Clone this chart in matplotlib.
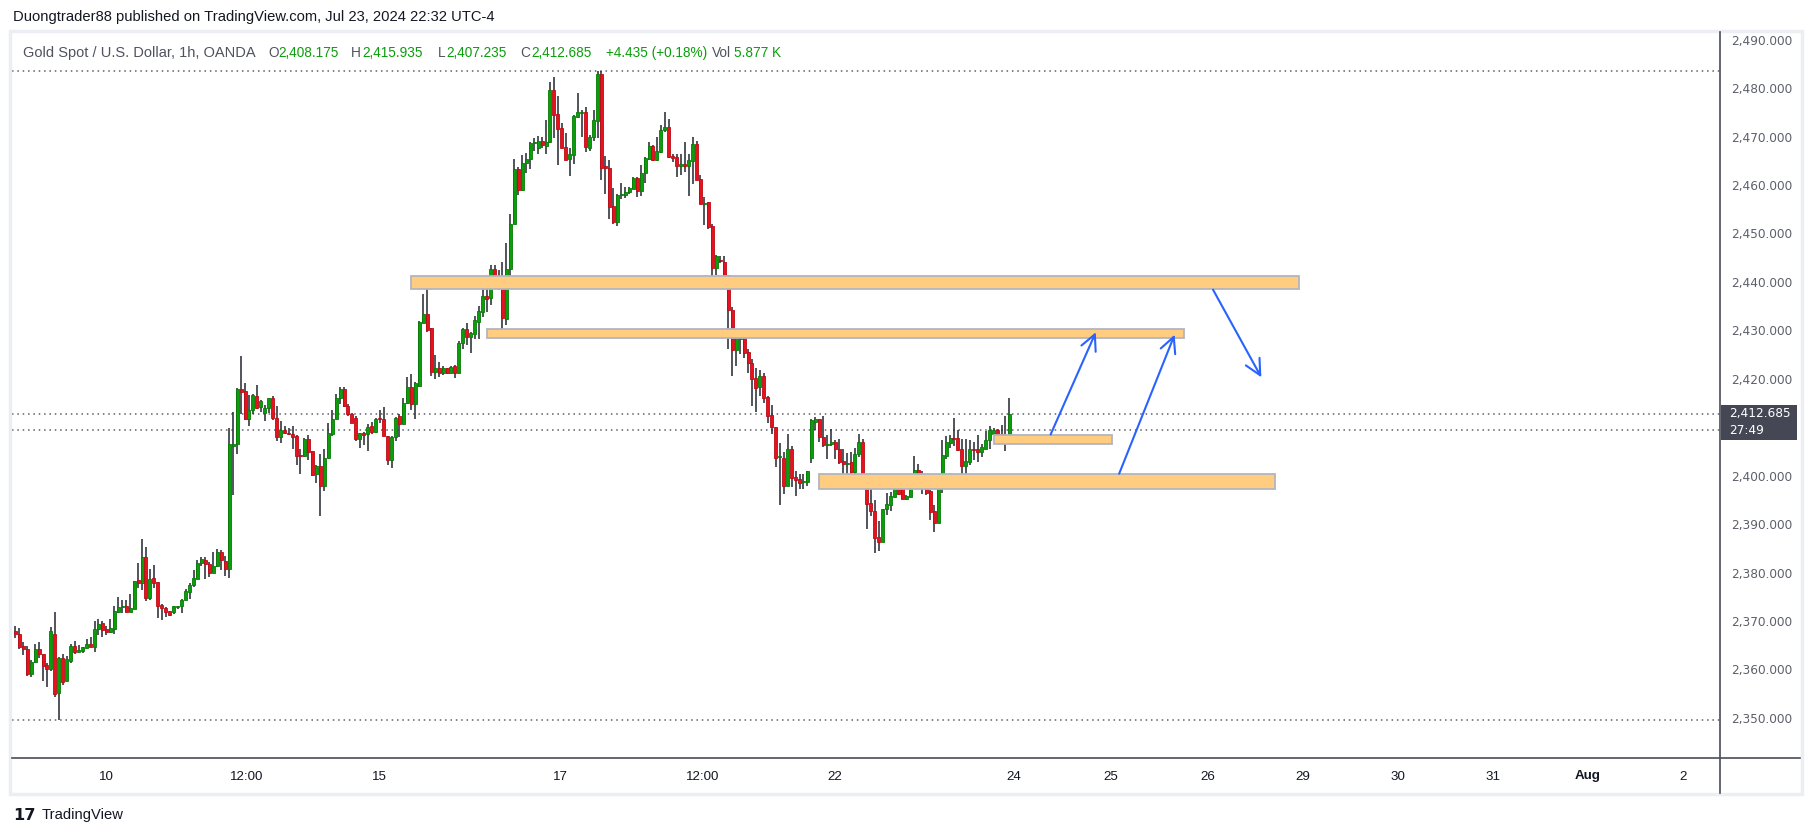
import matplotlib
matplotlib.use("Agg")
import matplotlib.pyplot as plt
from matplotlib import font_manager
from matplotlib.patches import Rectangle
from matplotlib.lines import Line2D

# 1h XAU/USD candles (OANDA)
opens = [2367.9, 2367.4, 2364.8, 2364.3, 2359.0, 2361.5, 2364.3, 2363.2, 2360.8, 2360.1,
         2367.2, 2355.1, 2362.3, 2357.5, 2361.7, 2364.8, 2363.6, 2363.8, 2364.4, 2365.2,
         2364.6, 2368.3, 2369.5, 2368.3, 2367.7, 2368.3, 2371.8, 2372.9, 2373.0, 2371.8,
         2372.5, 2378.4, 2377.8, 2383.3, 2374.7, 2378.9, 2378.0, 2373.2, 2372.7, 2372.0,
         2371.8, 2372.8, 2373.0, 2374.4, 2376.0, 2377.4, 2378.7, 2382.0, 2382.5, 2381.8,
         2379.9, 2381.4, 2384.2, 2382.4, 2380.7, 2406.2, 2406.6, 2417.8, 2417.4, 2411.7,
         2413.6, 2416.5, 2414.2, 2412.9, 2414.0, 2416.1, 2412.0, 2408.0, 2409.5, 2408.7,
         2408.7, 2408.1, 2404.2, 2404.1, 2407.6, 2405.0, 2400.3, 2401.9, 2397.9, 2403.7,
         2408.7, 2411.7, 2416.0, 2417.9, 2414.3, 2412.8, 2411.8, 2407.6, 2408.8, 2408.5,
         2410.2, 2409.0, 2411.8, 2411.6, 2408.1, 2403.2, 2407.9, 2412.3, 2410.7, 2414.9,
         2418.2, 2414.8, 2418.5, 2431.6, 2433.3, 2430.4, 2421.5, 2422.3, 2421.1, 2422.2,
         2421.1, 2422.6, 2421.2, 2427.3, 2430.2, 2428.6, 2429.2, 2431.8, 2433.8, 2437.0,
         2436.6, 2442.6, 2440.3, 2439.5, 2432.3, 2442.6, 2452.0, 2463.3, 2458.9, 2464.6,
         2465.3, 2468.6, 2467.7, 2469.0, 2468.1, 2468.8, 2479.6, 2474.6, 2471.7, 2467.8,
         2465.3, 2466.2, 2474.1, 2474.9, 2475.0, 2467.7, 2469.9, 2473.2, 2482.9, 2463.7,
         2463.6, 2455.6, 2452.4, 2458.0, 2458.0, 2458.6, 2459.1, 2461.5, 2458.8, 2462.4,
         2465.3, 2468.0, 2465.2, 2466.8, 2471.4, 2471.9, 2465.9, 2465.7, 2463.9, 2464.4,
         2463.9, 2465.0, 2468.4, 2461.3, 2456.1, 2456.4, 2451.5, 2442.9, 2444.5, 2444.2,
         2441.4, 2434.3, 2426.0, 2428.3, 2428.8, 2425.5, 2423.3, 2420.1, 2418.2, 2420.5,
         2416.2, 2412.6, 2410.1, 2403.9, 2403.7, 2397.9, 2405.4, 2399.8, 2399.3, 2398.7,
         2398.7, 2403.7, 2411.1, 2411.6, 2407.9, 2406.3, 2406.6, 2407.0, 2405.6, 2403.0,
         2402.4, 2402.8, 2400.8, 2404.4, 2406.9, 2398.2, 2394.3, 2392.8, 2387.3, 2386.3,
         2393.1, 2393.9, 2395.6, 2399.0, 2397.6, 2395.2, 2395.6, 2399.9, 2401.1, 2399.7,
         2398.4, 2396.8, 2392.6, 2390.2, 2397.9, 2404.1, 2406.7, 2407.7, 2407.7, 2405.4,
         2402.0, 2402.8, 2405.4, 2405.4, 2404.9, 2405.6, 2407.4, 2408.6, 2409.4, 2408.7,
         2408.3, 2408.175]
highs = [2368.9, 2368.5, 2365.7, 2364.8, 2362.0, 2365.3, 2365.7, 2363.2, 2361.4, 2368.7,
         2371.8, 2362.6, 2363.2, 2362.7, 2365.3, 2365.8, 2365.1, 2364.6, 2366.2, 2366.6,
         2369.9, 2370.3, 2370.0, 2369.0, 2370.5, 2373.0, 2375.0, 2374.3, 2374.3, 2375.5,
         2378.3, 2381.9, 2386.9, 2385.2, 2380.8, 2381.5, 2378.0, 2373.6, 2372.8, 2372.1,
         2373.0, 2373.0, 2374.5, 2376.5, 2377.9, 2380.5, 2382.5, 2383.2, 2383.2, 2382.2,
         2384.2, 2384.8, 2384.6, 2383.5, 2409.8, 2413.1, 2418.0, 2424.6, 2419.2, 2416.6,
         2416.8, 2418.7, 2415.6, 2414.5, 2416.1, 2416.4, 2414.3, 2411.2, 2410.2, 2409.9,
         2410.2, 2408.3, 2405.6, 2407.7, 2408.3, 2405.1, 2402.1, 2404.4, 2405.6, 2410.9,
         2413.6, 2416.9, 2418.3, 2418.3, 2414.7, 2412.9, 2412.3, 2408.8, 2409.0, 2410.7,
         2411.0, 2412.0, 2413.5, 2414.1, 2408.1, 2408.1, 2412.2, 2412.7, 2416.0, 2420.3,
         2420.9, 2419.4, 2431.9, 2437.5, 2439.9, 2430.4, 2424.9, 2423.4, 2422.6, 2422.2,
         2422.7, 2422.8, 2427.8, 2430.4, 2431.5, 2429.6, 2432.9, 2435.0, 2439.2, 2438.8,
         2443.5, 2443.5, 2442.4, 2444.1, 2448.0, 2454.0, 2465.3, 2463.7, 2466.3, 2466.6,
         2468.9, 2469.7, 2470.1, 2469.9, 2473.4, 2481.2, 2482.3, 2478.3, 2472.8, 2470.8,
         2467.7, 2474.5, 2479.0, 2475.4, 2476.2, 2470.3, 2475.4, 2483.6, 2483.6, 2465.9,
         2465.1, 2459.3, 2458.2, 2460.4, 2459.5, 2459.6, 2461.7, 2461.7, 2464.1, 2465.8,
         2468.8, 2468.3, 2469.9, 2472.4, 2475.0, 2473.7, 2466.4, 2466.4, 2466.4, 2468.8,
         2466.4, 2469.9, 2469.0, 2462.0, 2457.6, 2456.4, 2451.9, 2445.6, 2445.4, 2445.3,
         2441.4, 2434.8, 2428.8, 2429.6, 2429.4, 2426.1, 2424.0, 2422.2, 2421.8, 2421.1,
         2416.4, 2414.5, 2410.1, 2406.7, 2404.9, 2408.5, 2406.1, 2400.9, 2400.4, 2400.3,
         2400.9, 2411.6, 2412.1, 2411.6, 2412.3, 2408.3, 2409.6, 2407.4, 2407.5, 2405.4,
         2404.6, 2404.9, 2405.8, 2408.5, 2407.6, 2399.7, 2400.3, 2394.9, 2390.6, 2393.1,
         2396.4, 2396.6, 2400.3, 2399.5, 2397.7, 2395.9, 2400.2, 2404.0, 2402.5, 2400.9,
         2399.7, 2397.0, 2393.9, 2399.2, 2407.3, 2408.1, 2408.3, 2412.0, 2409.4, 2407.6,
         2407.6, 2407.3, 2406.9, 2408.3, 2406.5, 2409.2, 2410.3, 2409.8, 2409.6, 2410.4,
         2412.3, 2415.935]
lows = [2366.5, 2364.3, 2363.0, 2358.6, 2358.4, 2361.4, 2362.3, 2357.7, 2356.4, 2359.7,
        2354.3, 2349.5, 2356.8, 2357.5, 2361.3, 2363.1, 2363.6, 2363.4, 2364.4, 2364.6,
        2363.6, 2367.1, 2366.7, 2367.0, 2367.5, 2367.3, 2371.6, 2371.6, 2371.8, 2371.8,
        2372.5, 2376.7, 2376.4, 2374.1, 2374.4, 2376.7, 2370.6, 2370.1, 2370.8, 2371.0,
        2371.4, 2372.5, 2371.6, 2374.4, 2374.6, 2377.0, 2378.7, 2381.3, 2378.7, 2379.0,
        2379.8, 2381.1, 2380.6, 2379.2, 2378.9, 2396.0, 2404.5, 2412.8, 2411.4, 2410.3,
        2412.8, 2413.8, 2413.1, 2411.3, 2412.9, 2411.4, 2407.2, 2406.7, 2408.7, 2408.3,
        2405.5, 2402.3, 2400.3, 2403.9, 2403.3, 2399.9, 2398.5, 2391.7, 2396.8, 2403.7,
        2408.1, 2411.6, 2414.7, 2414.1, 2412.3, 2410.9, 2407.2, 2405.7, 2406.3, 2405.1,
        2408.5, 2408.8, 2410.9, 2408.2, 2402.1, 2401.5, 2407.2, 2407.9, 2410.7, 2414.7,
        2413.6, 2411.7, 2418.3, 2431.5, 2429.7, 2420.6, 2420.0, 2420.4, 2420.7, 2421.0,
        2421.1, 2420.2, 2421.2, 2426.2, 2426.9, 2425.3, 2428.3, 2428.3, 2432.8, 2433.8,
        2435.2, 2439.7, 2438.4, 2429.5, 2431.1, 2440.5, 2452.0, 2457.9, 2458.7, 2462.5,
        2463.3, 2467.0, 2466.4, 2467.6, 2466.4, 2468.7, 2469.7, 2464.1, 2467.7, 2465.1,
        2461.9, 2464.4, 2473.9, 2469.9, 2466.8, 2467.0, 2469.0, 2469.8, 2461.1, 2458.2,
        2453.0, 2451.9, 2451.6, 2457.2, 2457.3, 2458.1, 2459.1, 2457.5, 2457.7, 2460.4,
        2465.2, 2465.0, 2464.9, 2466.7, 2471.0, 2465.6, 2464.7, 2461.7, 2462.0, 2462.7,
        2457.8, 2460.3, 2461.0, 2456.0, 2451.8, 2450.9, 2440.3, 2441.4, 2443.9, 2441.2,
        2426.2, 2420.5, 2422.7, 2425.2, 2424.2, 2421.2, 2414.4, 2413.2, 2416.4, 2415.0,
        2410.9, 2408.7, 2401.8, 2393.9, 2396.2, 2397.9, 2397.7, 2395.8, 2397.3, 2397.3,
        2397.9, 2402.6, 2409.4, 2407.0, 2405.9, 2403.5, 2406.1, 2403.5, 2402.5, 2399.2,
        2399.9, 2399.9, 2399.9, 2403.9, 2398.0, 2389.0, 2391.6, 2384.0, 2384.4, 2386.3,
        2391.9, 2392.7, 2395.5, 2396.1, 2395.1, 2395.0, 2395.5, 2399.2, 2397.6, 2396.2,
        2395.9, 2390.8, 2388.3, 2390.2, 2396.4, 2403.4, 2405.7, 2406.1, 2405.1, 2399.7,
        2399.9, 2402.1, 2403.2, 2402.8, 2403.9, 2405.6, 2405.4, 2408.3, 2408.1, 2408.1,
        2405.0, 2407.235]
closes = [2367.3, 2364.6, 2364.2, 2359.0, 2361.6, 2364.3, 2363.2, 2360.7, 2360.0, 2367.9,
          2354.9, 2362.3, 2357.4, 2362.1, 2364.8, 2363.6, 2364.1, 2364.6, 2365.2, 2364.6,
          2368.3, 2369.4, 2368.1, 2367.7, 2368.5, 2372.0, 2372.8, 2373.0, 2371.8, 2372.6,
          2378.3, 2377.8, 2383.3, 2374.7, 2378.7, 2377.8, 2373.1, 2372.7, 2371.8, 2371.2,
          2373.0, 2373.0, 2374.3, 2376.2, 2377.5, 2378.8, 2382.0, 2382.7, 2381.8, 2379.9,
          2381.4, 2384.2, 2382.5, 2380.7, 2406.5, 2406.6, 2417.8, 2417.3, 2411.6, 2413.6,
          2416.7, 2414.0, 2415.4, 2414.0, 2416.1, 2411.9, 2408.0, 2409.5, 2408.8, 2408.5,
          2408.0, 2404.1, 2404.1, 2407.5, 2404.9, 2400.1, 2401.9, 2397.9, 2403.6, 2408.9,
          2411.7, 2416.0, 2417.8, 2414.3, 2412.7, 2410.9, 2407.6, 2408.8, 2408.4, 2410.1,
          2409.0, 2411.6, 2411.7, 2408.2, 2403.2, 2407.9, 2412.0, 2410.7, 2414.9, 2418.2,
          2414.8, 2419.2, 2431.7, 2433.3, 2430.1, 2421.4, 2422.3, 2421.1, 2422.3, 2421.1,
          2422.5, 2421.2, 2427.3, 2430.2, 2428.6, 2429.4, 2432.1, 2433.9, 2437.0, 2436.4,
          2442.6, 2439.9, 2439.4, 2432.6, 2442.7, 2452.0, 2463.3, 2459.0, 2464.6, 2465.3,
          2468.6, 2468.8, 2469.0, 2468.3, 2468.8, 2479.6, 2474.5, 2471.6, 2467.7, 2465.2,
          2466.4, 2474.2, 2475.0, 2475.0, 2467.9, 2470.0, 2473.4, 2482.9, 2463.6, 2463.6,
          2455.5, 2452.4, 2458.0, 2458.1, 2458.6, 2459.4, 2461.4, 2458.8, 2462.4, 2465.5,
          2468.0, 2465.2, 2467.0, 2471.4, 2471.9, 2465.8, 2465.6, 2463.9, 2464.4, 2463.9,
          2465.1, 2468.4, 2461.1, 2456.1, 2456.2, 2451.4, 2442.9, 2445.3, 2444.3, 2441.2,
          2434.3, 2426.0, 2428.4, 2428.8, 2425.3, 2423.3, 2420.0, 2418.0, 2420.5, 2416.0,
          2412.4, 2410.1, 2403.7, 2404.0, 2397.9, 2405.4, 2399.5, 2399.2, 2398.5, 2398.8,
          2400.9, 2411.4, 2411.6, 2407.9, 2406.4, 2406.6, 2407.0, 2405.5, 2402.8, 2402.5,
          2402.5, 2400.8, 2404.4, 2406.9, 2398.1, 2394.2, 2392.7, 2387.1, 2386.3, 2393.1,
          2394.1, 2395.7, 2399.0, 2396.2, 2395.2, 2395.7, 2400.1, 2401.1, 2399.5, 2398.3,
          2396.4, 2392.5, 2390.2, 2398.0, 2404.2, 2406.9, 2407.7, 2407.6, 2405.3, 2402.0,
          2403.0, 2405.4, 2405.3, 2404.9, 2405.9, 2407.4, 2409.5, 2409.4, 2408.5, 2408.2,
          2408.2, 2412.685]

# time axis labels (bar index where they sit)
tick_pos = [23, 58.5, 92, 137.5, 173.5, 207, 252, 276.5, 301, 325, 349, 373, 397, 421]
tick_lbl = ["10", "12:00", "15", "17", "12:00", "22", "24", "25", "26", "29", "30", "31", "Aug", "2"]
# 2,410 is hidden behind the last-price badge
price_ticks = [2350, 2360, 2370, 2380, 2390, 2400, 2420, 2430, 2440, 2450, 2460, 2470, 2480, 2490]

# drawn supply / demand zones
zone_x0 = [100, 119, 247, 203]
zone_x1 = [324, 295, 277, 318]
zone_lo = [2438.5, 2428.5, 2406.6, 2397.3]
zone_hi = [2441.3, 2430.35, 2408.4, 2400.4]

# drawn arrows (bar index, price)
arrow_x0 = [261.4, 278.7, 302.4]
arrow_y0 = [2408.5, 2400.4, 2438.4]
arrow_x1 = [272.8, 292.7, 314.6]
arrow_y1 = [2429.6, 2429.1, 2420.3]

last_price = 2412.685
prev_line = 2409.5

UP = "#0a9e0a"
UP_EDGE = "#077a07"
DOWN = "#e8111e"
DOWN_EDGE = "#b80c16"
WICK = "#23262f"
TEXT = "#131722"
GRAY = "#50535e"
LINE = "#4a4d57"

names = {f.name for f in font_manager.fontManager.ttflist}
if "Liberation Sans Narrow" in names:
    NARROW, HSIZE, LSIZE, VSIZE, XSIZE = "Liberation Sans Narrow", 12.6, 12.6, 12.0, 11.5
else:
    NARROW, HSIZE, LSIZE, VSIZE, XSIZE = "Liberation Sans", 10.6, 10.5, 9.8, 9.6

W, H = 1814, 836


def fx(p):
    return p / W


def fy(p):
    return 1 - p / H


fig = plt.figure(figsize=(W / 100, H / 100), dpi=100)
fig.patch.set_facecolor("white")

# chart panel frame
fig.add_artist(Rectangle((fx(10), fy(794)), fx(1802) - fx(10), fy(31) - fy(794),
                         transform=fig.transFigure, fill=False, edgecolor="#eceef3", lw=2.5))

ax = fig.add_axes([fx(12), fy(758), fx(1720) - fx(12), fy(32) - fy(758)])
ax.set_facecolor("white")
ax.set_xlim(-0.83, 430.4)
ax.set_ylim(2341.7, 2491.6)
for s in ax.spines.values():
    s.set_visible(False)

x = list(range(len(closes)))
for i in x:
    o, c = opens[i], closes[i]
    up = c >= o
    ax.vlines(i, lows[i], highs[i], color=WICK, lw=1.1, zorder=2)
    lo = min(o, c)
    h = max(abs(c - o), 0.25)
    ax.bar(i, h, bottom=lo, width=0.76, color=UP if up else DOWN,
           edgecolor=UP_EDGE if up else DOWN_EDGE, lw=0.6, zorder=3)

# zones
for a, b, lo, hi in zip(zone_x0, zone_x1, zone_lo, zone_hi):
    ax.add_patch(Rectangle((a, lo), b - a, hi - lo, facecolor="#ffcc80",
                           edgecolor="#b2b5be", lw=1.3, zorder=4))

# arrows
for a, b, c, d in zip(arrow_x0, arrow_y0, arrow_x1, arrow_y1):
    ax.annotate("", xy=(c, d), xytext=(a, b),
                arrowprops=dict(arrowstyle="->,head_length=0.7,head_width=0.35",
                                color="#2962ff", lw=1.5, mutation_scale=16,
                                shrinkA=0, shrinkB=0), zorder=5)

# dotted reference lines
dots = dict(color="#5d606b", lw=1.1, linestyle=(0, (1, 2.5)), zorder=1)
ax.axhline(max(highs), **dots)
ax.axhline(min(lows), **dots)
ax.axhline(last_price, **dots)
ax.axhline(prev_line, **dots)

# axes ticks
ax.yaxis.tick_right()
ax.set_yticks(price_ticks)
ax.set_yticklabels([f"{v:,.3f}" for v in price_ticks], fontsize=8.7,
                   color="#5d606b", family="DejaVu Sans")
ax.tick_params(axis="y", length=0, pad=8)
ax.set_xticks(tick_pos)
ax.set_xticklabels(tick_lbl, fontsize=XSIZE, color=TEXT, family=NARROW)
for t in ax.get_xticklabels():
    if t.get_text() == "Aug":
        t.set_fontweight("bold")
ax.tick_params(axis="x", length=0, pad=9)

# separators
fig.add_artist(Line2D([fx(12), fx(1800)], [fy(758), fy(758)], color=LINE, lw=1.2))
fig.add_artist(Line2D([fx(1720), fx(1720)], [fy(32), fy(793)], color=LINE, lw=1.2))

# last price badge
fig.add_artist(Rectangle((fx(1721), fy(440)), fx(1797) - fx(1721), fy(405) - fy(440),
                         transform=fig.transFigure, facecolor="#454854", edgecolor="none"))
fig.text(fx(1729), fy(414), f"{last_price:,.3f}", color="white", fontsize=8.7,
         family="DejaVu Sans", va="center", ha="left")
fig.text(fx(1729), fy(431), "27:49", color="white", fontsize=8.7,
         family="DejaVu Sans", va="center", ha="left")

# header + legend
fig.text(fx(12.6), fy(17), "Duongtrader88 published on TradingView.com, Jul 23, 2024 22:32 UTC-4",
         color=TEXT, fontsize=HSIZE, family=NARROW, va="center")
legend = [("Gold Spot / U.S. Dollar, 1h, OANDA", 23.0, GRAY, LSIZE),
          ("O", 268.1, GRAY, VSIZE), ("2,408.175", 278.5, UP, VSIZE),
          ("H", 351.3, GRAY, VSIZE), ("2,415.935", 362.0, UP, VSIZE),
          ("L", 437.4, GRAY, VSIZE), ("2,407.235", 446.6, UP, VSIZE),
          ("C", 520.7, GRAY, VSIZE), ("2,412.685", 531.0, UP, VSIZE),
          ("+4.435 (+0.18%)", 605.6, UP, VSIZE),
          ("Vol", 711.8, GRAY, VSIZE), ("5.877 K", 734.0, UP, VSIZE)]
for txt, px, col, sz in legend:
    fig.text(fx(px), fy(57), txt, color=col, fontsize=sz, family=NARROW, va="baseline")

# footer logo
fig.text(fx(13), fy(815), "17", color=TEXT, fontsize=HSIZE + 1, family="DejaVu Sans",
         fontweight="bold", va="center")
fig.text(fx(42), fy(815), "TradingView", color=TEXT, fontsize=HSIZE, family=NARROW, va="center")

fig.savefig("out.png", dpi=100, facecolor="white")
